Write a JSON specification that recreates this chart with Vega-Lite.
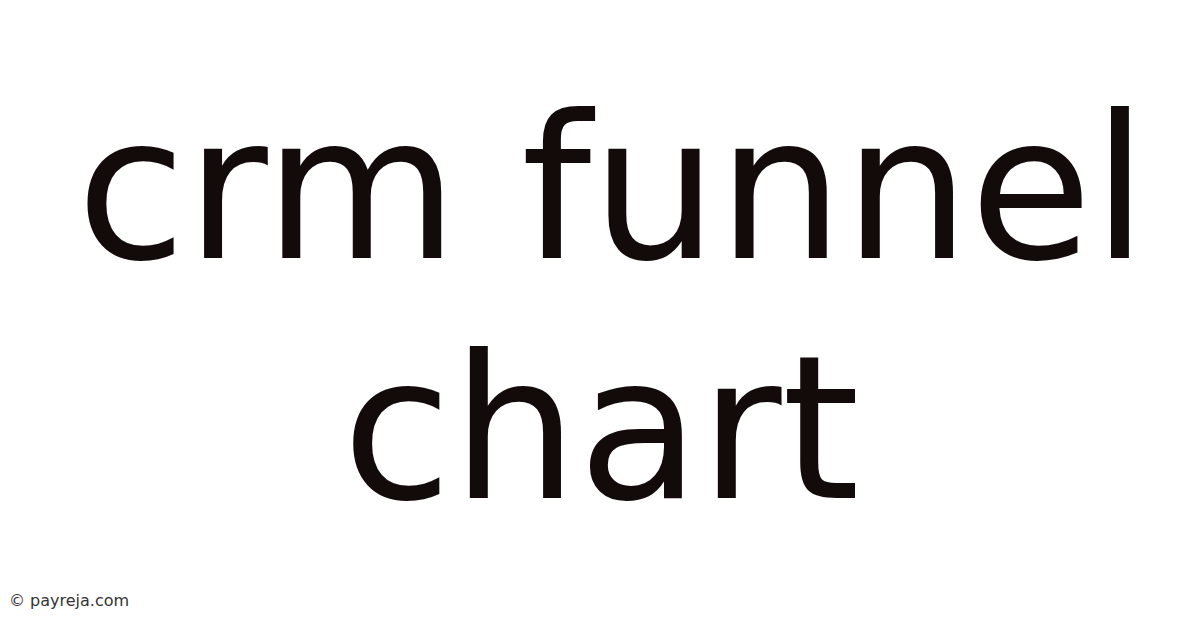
{
  "$schema": "https://vega.github.io/schema/vega-lite/v6.json",
  "width": 1200,
  "height": 628,
  "autosize": {"type": "fit", "contains": "padding"},
  "padding": 0,
  "background": "#ffffff",
  "config": {"view": {"stroke": null}},
  "datasets": {
    "headline": [
      {"label": "crm funnel", "cx": 612, "baseline": 258},
      {"label": "chart", "cx": 601, "baseline": 498}
    ],
    "credit": [
      {"label": "© payreja.com", "left": 9, "baseline": 606}
    ]
  },
  "layer": [
    {
      "data": {"name": "headline"},
      "mark": {
        "type": "text",
        "font": "DejaVu Sans",
        "fontSize": 199,
        "align": "center",
        "baseline": "alphabetic",
        "color": "#130a0a"
      },
      "encoding": {
        "x": {"field": "cx", "type": "quantitative", "scale": {"domain": [0, 1200]}, "axis": null},
        "y": {"field": "baseline", "type": "quantitative", "scale": {"domain": [628, 0]}, "axis": null},
        "text": {"field": "label"}
      }
    },
    {
      "data": {"name": "credit"},
      "mark": {
        "type": "text",
        "font": "DejaVu Sans",
        "fontSize": 16,
        "align": "left",
        "baseline": "alphabetic",
        "color": "#333333"
      },
      "encoding": {
        "x": {"field": "left", "type": "quantitative", "scale": {"domain": [0, 1200]}, "axis": null},
        "y": {"field": "baseline", "type": "quantitative", "scale": {"domain": [628, 0]}, "axis": null},
        "text": {"field": "label"}
      }
    }
  ]
}
